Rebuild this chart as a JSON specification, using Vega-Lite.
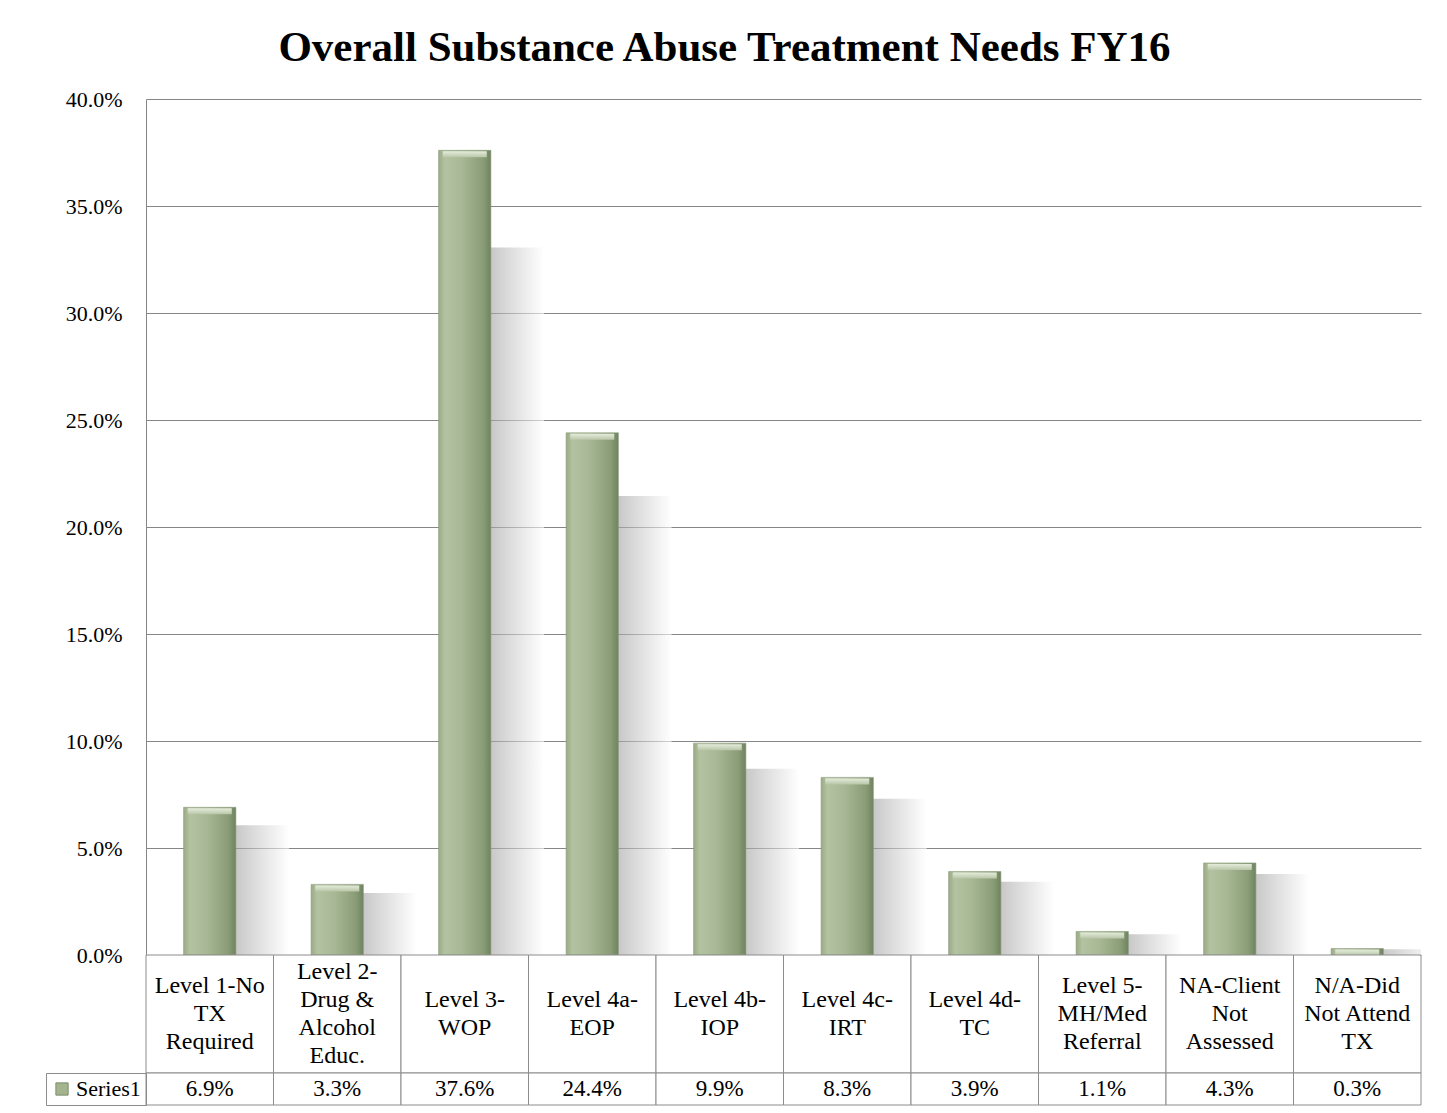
{
  "$schema": "https://vega.github.io/schema/vega-lite/v6.json",
  "padding": {"left": 45, "top": 27, "right": 27, "bottom": 8},
  "background": "white",
  "title": {
    "text": "Overall Substance Abuse Treatment Needs FY16",
    "font": "Liberation Serif",
    "fontSize": 43,
    "fontWeight": "bold",
    "color": "#000000",
    "anchor": "middle",
    "dx": -9,
    "offset": 18
  },
  "data": {
    "values": [
      {"need": "Level 1-No TX Required", "lines": "Level 1-No\nTX\nRequired", "nlines": 3, "pct": 0.069, "series": "Series1"},
      {"need": "Level 2-Drug & Alcohol Educ.", "lines": "Level 2-\nDrug &\nAlcohol\nEduc.", "nlines": 4, "pct": 0.033, "series": "Series1"},
      {"need": "Level 3-WOP", "lines": "Level 3-\nWOP", "nlines": 2, "pct": 0.376, "series": "Series1"},
      {"need": "Level 4a-EOP", "lines": "Level 4a-\nEOP", "nlines": 2, "pct": 0.244, "series": "Series1"},
      {"need": "Level 4b-IOP", "lines": "Level 4b-\nIOP", "nlines": 2, "pct": 0.099, "series": "Series1"},
      {"need": "Level 4c-IRT", "lines": "Level 4c-\nIRT", "nlines": 2, "pct": 0.083, "series": "Series1"},
      {"need": "Level 4d-TC", "lines": "Level 4d-\nTC", "nlines": 2, "pct": 0.039, "series": "Series1"},
      {"need": "Level 5-MH/Med Referral", "lines": "Level 5-\nMH/Med\nReferral", "nlines": 3, "pct": 0.011, "series": "Series1"},
      {"need": "NA-Client Not Assessed", "lines": "NA-Client\nNot\nAssessed", "nlines": 3, "pct": 0.043, "series": "Series1"},
      {"need": "N/A-Did Not Attend TX", "lines": "N/A-Did\nNot Attend\nTX", "nlines": 3, "pct": 0.003, "series": "Series1"}
    ]
  },
  "spacing": 0,
  "bounds": "flush",
  "resolve": {"scale": {"color": "independent"}, "legend": {"color": "independent"}},
  "vconcat": [
    {
      "width": 1275,
      "height": 856,
      "resolve": {"scale": {"y": "independent"}},
      "layer": [
        {
          "mark": {
            "type": "bar",
            "clip": true,
            "width": {"band": 0.46},
            "xOffset": 50,
            "opacity": 0.6,
            "color": {
              "gradient": "linear",
              "x1": 0, "y1": 0, "x2": 1, "y2": 0,
              "stops": [
                {"offset": 0, "color": "#999999"},
                {"offset": 0.4, "color": "#c4c4c4"},
                {"offset": 1, "color": "#ffffff"}
              ]
            }
          },
          "encoding": {
            "x": {"field": "need", "type": "nominal", "sort": null, "axis": null, "scale": {"paddingInner": 0, "paddingOuter": 0}},
            "y": {"field": "pct", "type": "quantitative", "axis": null, "scale": {"domain": [0, 0.455]}}
          }
        },
        {
          "mark": {
            "type": "bar",
            "width": {"band": 0.41},
            "stroke": "#8a9a7a",
            "strokeWidth": 0.6,
            "color": {
              "gradient": "linear",
              "x1": 0, "y1": 0, "x2": 1, "y2": 0,
              "stops": [
                {"offset": 0, "color": "#9aab86"},
                {"offset": 0.12, "color": "#b3c2a0"},
                {"offset": 0.45, "color": "#a8b794"},
                {"offset": 0.85, "color": "#8a9d77"},
                {"offset": 1, "color": "#6f8360"}
              ]
            }
          },
          "encoding": {
            "x": {"field": "need", "type": "nominal", "sort": null, "axis": null, "scale": {"paddingInner": 0, "paddingOuter": 0}},
            "y": {
              "field": "pct",
              "type": "quantitative",
              "scale": {"domain": [0, 0.4]},
              "axis": {
                "title": null,
                "format": ".1%",
                "values": [0, 0.05, 0.1, 0.15, 0.2, 0.25, 0.3, 0.35, 0.4],
                "ticks": false,
                "grid": true,
                "labelPadding": 24,
                "labelFont": "Liberation Serif",
                "labelFontSize": 22,
                "labelColor": "#000000",
                "domainColor": "#868686",
                "domainWidth": 1,
                "gridColor": "#868686",
                "gridWidth": 1,
                "gridOpacity": 1
              }
            }
          }
        },
        {
          "mark": {
            "type": "tick",
            "size": 44,
            "thickness": 6,
            "yOffset": 4,
            "opacity": 1,
            "color": {
              "gradient": "linear",
              "x1": 0, "y1": 0, "x2": 0, "y2": 1,
              "stops": [
                {"offset": 0, "color": "#e4ecda"},
                {"offset": 1, "color": "#b9c6a8"}
              ]
            }
          },
          "encoding": {
            "x": {"field": "need", "type": "nominal", "sort": null, "axis": null, "scale": {"paddingInner": 0, "paddingOuter": 0}},
            "y": {"field": "pct", "type": "quantitative", "axis": null, "scale": {"domain": [0, 0.4]}}
          }
        }
      ]
    },
    {
      "width": 1275,
      "height": 118,
      "layer": [
        {
          "mark": {"type": "rect", "fill": "white", "stroke": "#8c8c8c", "strokeWidth": 1},
          "encoding": {
            "x": {"field": "need", "type": "nominal", "sort": null, "axis": null, "scale": {"paddingInner": 0, "paddingOuter": 0}}
          }
        },
        {
          "mark": {"type": "text", "lineBreak": "\n", "lineHeight": 28, "font": "Liberation Serif", "fontSize": 24, "color": "#000000", "align": "center", "baseline": "middle"},
          "encoding": {
            "x": {"field": "need", "type": "nominal", "sort": null, "axis": null, "scale": {"paddingInner": 0, "paddingOuter": 0}},
            "y": {"field": "nlines", "type": "quantitative", "axis": null, "scale": {"domain": [1, 5], "range": [59, 3]}},
            "text": {"field": "lines"}
          }
        }
      ]
    },
    {
      "width": 1275,
      "height": 32,
      "layer": [
        {
          "mark": {"type": "rect", "fill": "white", "stroke": "#8c8c8c", "strokeWidth": 1},
          "encoding": {
            "x": {"field": "need", "type": "nominal", "sort": null, "axis": null, "scale": {"paddingInner": 0, "paddingOuter": 0}}
          }
        },
        {
          "mark": {"type": "square", "opacity": 0, "size": 10},
          "encoding": {
            "x": {"field": "need", "type": "nominal", "sort": null, "axis": null, "scale": {"paddingInner": 0, "paddingOuter": 0}},
            "color": {
              "field": "series",
              "type": "nominal",
              "scale": {"range": ["#a4b48f"]},
              "legend": {
                "title": null,
                "orient": "left",
                "offset": 0,
                "padding": 5,
                "strokeColor": "#8c8c8c",
                "symbolType": "square",
                "symbolSize": 150,
                "symbolOpacity": 1,
                "symbolStrokeColor": "#7a8c6a",
                "symbolStrokeWidth": 1,
                "symbolOffset": 0,
                "labelOffset": 3,
                "labelFont": "Liberation Serif",
                "labelFontSize": 22,
                "labelColor": "#000000"
              }
            }
          }
        },
        {
          "mark": {"type": "text", "font": "Liberation Serif", "fontSize": 23, "color": "#000000", "align": "center", "baseline": "middle"},
          "encoding": {
            "x": {"field": "need", "type": "nominal", "sort": null, "axis": null, "scale": {"paddingInner": 0, "paddingOuter": 0}},
            "text": {"field": "pct", "format": ".1%"}
          }
        }
      ]
    }
  ],
  "config": {
    "view": {"stroke": null},
    "concat": {"spacing": 0}
  }
}
